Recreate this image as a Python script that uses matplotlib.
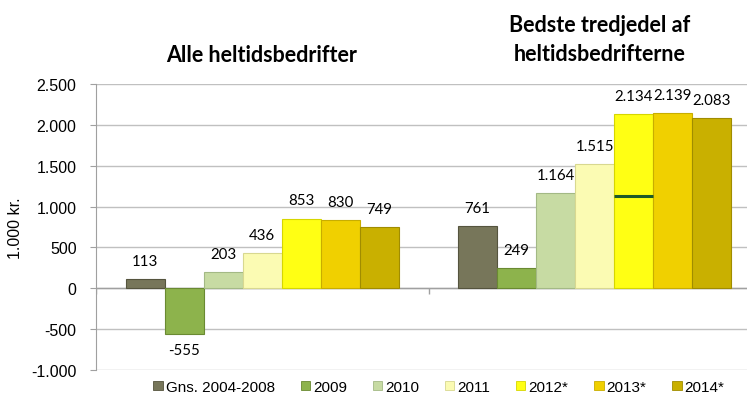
import numpy as np
import matplotlib
matplotlib.use("Agg")
import matplotlib.pyplot as plt
from matplotlib.patches import Patch

# data
groups = ["Alle heltidsbedrifter", "Bedste tredjedel af\nheltidsbedrifterne"]
series = ["Gns. 2004-2008", "2009", "2010", "2011", "2012*", "2013*", "2014*"]
alle = [113, -555, 203, 436, 853, 830, 749]
bedste = [761, 249, 1164, 1515, 2134, 2139, 2083]
marker_2012_bedste = 1130  # dark green line inside the 2012* bar

colors = ["#77765a", "#8db34c", "#c7dba3", "#fbfbb3", "#ffff14", "#f0d000", "#c9b000"]
edges = ["#55543e", "#6a8a32", "#a3b985", "#d8d890", "#d6d600", "#c8ad00", "#a08c00"]

def fmt(v):
    s = "{:,}".format(v).replace(",", ".")
    return s

fig = plt.figure(figsize=(7.47, 4.02), dpi=100)
ax = fig.add_axes([96 / 747, 31 / 402, 665 / 747, 286 / 402])

w = 39 / 332
vals = np.array([alle, bedste])
for i in range(len(series)):
    xs = np.arange(len(groups)) + (i - 3) * w
    ax.bar(xs, vals[:, i], width=w, color=colors[i], edgecolor=edges[i],
           linewidth=0.8, zorder=3)
    for x, v in zip(xs, vals[:, i]):
        if v >= 0:
            ax.annotate(fmt(v), (x, v), xytext=(0, 8), textcoords="offset points",
                        ha="center", va="bottom", fontsize=10.8, family="Lato")
        else:
            ax.annotate(fmt(v), (x, v), xytext=(0, -7), textcoords="offset points",
                        ha="center", va="top", fontsize=10.8, family="Lato")

# dark line in the 2012* bar of the right group
x12 = 1 + (4 - 3) * w
ax.hlines(marker_2012_bedste, x12 - w / 2, x12 + w / 2, color="#1e5a28",
          linewidth=2.2, zorder=4)

ax.set_xlim(-0.5, 1.5)
ax.set_ylim(-1000, 2500)
ax.set_yticks(np.arange(-1000, 2501, 500))
ax.set_yticklabels([fmt(int(t)) for t in np.arange(-1000, 2501, 500)],
                   family="Liberation Sans", fontsize=11.5)
ax.set_ylabel("1.000 kr.", family="Liberation Sans", fontsize=11.5, labelpad=6)
ax.yaxis.grid(True, color="#c0c0c0", linewidth=1, zorder=0)
ax.set_axisbelow(True)
for s in ["top", "right", "bottom"]:
    ax.spines[s].set_visible(False)
ax.spines["left"].set_color("#a0a0a0")
ax.tick_params(axis="y", length=4, color="#a0a0a0", pad=10)
ax.axhline(0, color="#a0a0a0", linewidth=1, zorder=2)
ax.set_xticks([])
ax.vlines([-0.5, 0.5], -70, 0, color="#a0a0a0", linewidth=1, zorder=2)

# group titles
fig.text(262 / 747, 1 - 55 / 402, groups[0], ha="center", va="center",
         family="Lato", fontweight="bold", fontsize=15.5)
fig.text(600 / 747, 1 - 40 / 402, groups[1], ha="center", va="center",
         family="Lato", fontweight="bold", fontsize=15.5, linespacing=1.5)

handles = [Patch(facecolor=c, edgecolor=e, linewidth=0.6) for c, e in zip(colors, edges)]
fig.legend(handles, series, loc="center", bbox_to_anchor=(439 / 747, 1 - 388 / 402),
           ncol=7, frameon=False, handlelength=0.6, handleheight=0.6,
           handletextpad=0.2, columnspacing=1.7,
           prop={"family": "Liberation Sans", "size": 11})

fig.savefig("out.png", dpi=100)
